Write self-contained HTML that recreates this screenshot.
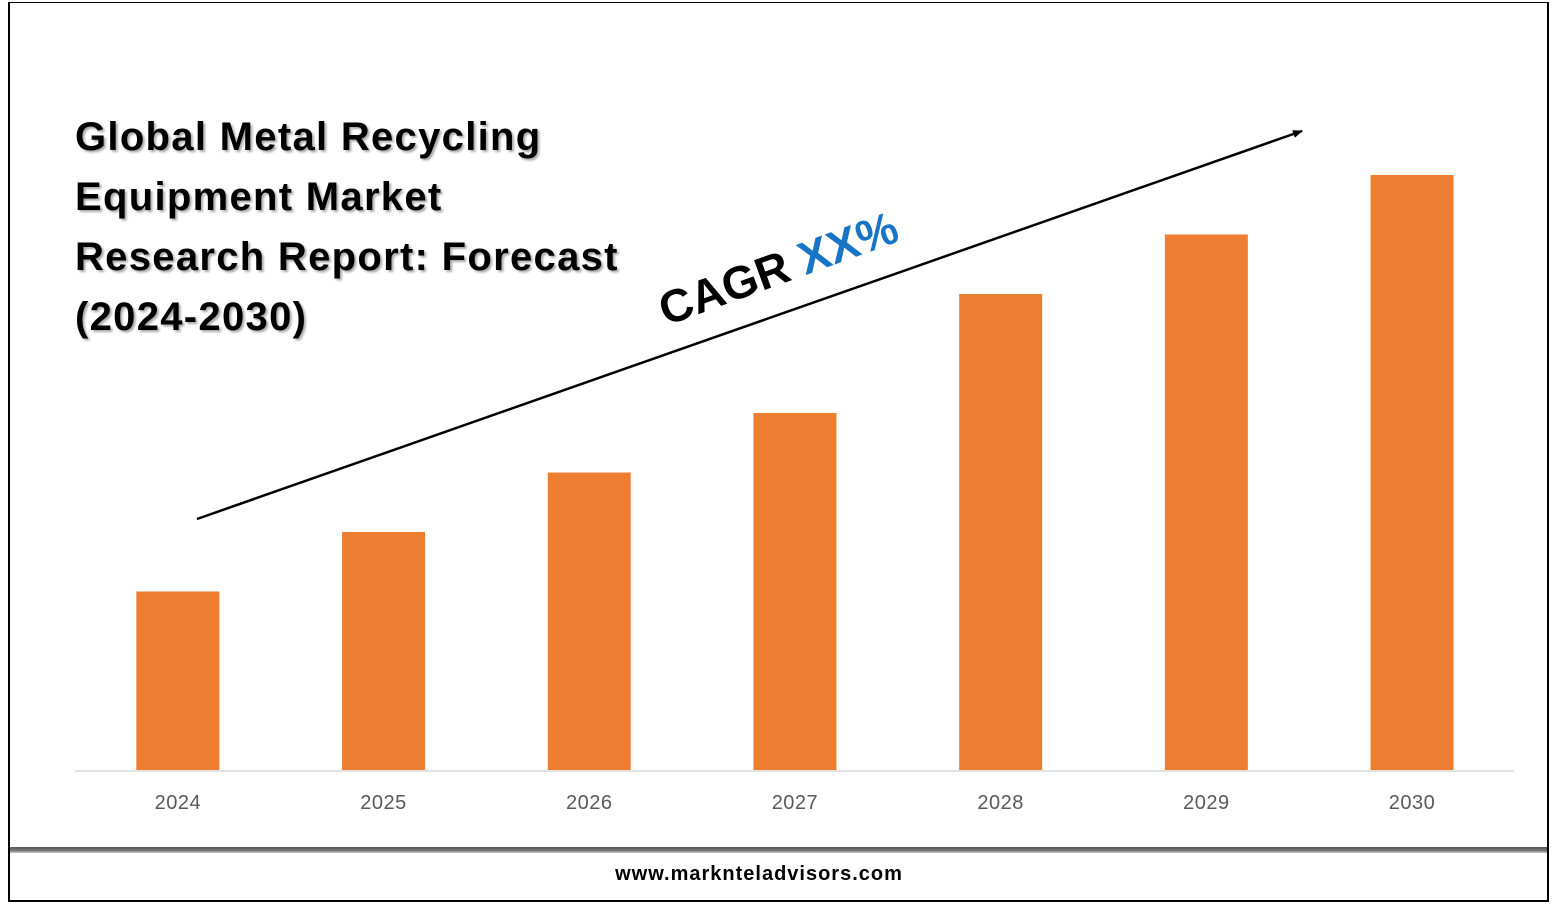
<!DOCTYPE html>
<html><head><meta charset="utf-8"><style>
body{margin:0;background:#fff;width:1557px;height:906px;overflow:hidden;font-family:"Liberation Sans",sans-serif}
#frame{position:absolute;left:8px;top:2px;width:1537px;height:897px;border:2px solid #000;border-top:1px solid #000;box-sizing:content-box}
#band{position:absolute;left:10px;top:847px;width:1537px;height:6px;background:linear-gradient(#555,#777 60%,#ccc)}
#title{position:absolute;left:75px;top:107px;font-weight:bold;font-size:40px;line-height:60px;color:#000;text-shadow:2px 2px 2px #aaa;letter-spacing:1.3px}
#footer{position:absolute;left:613px;width:292px;top:863px;text-align:center;font-weight:bold;font-size:20px;letter-spacing:1px;white-space:nowrap}
</style></head><body>
<div id="frame"></div>
<div id="band"></div>
<div id="title">Global Metal Recycling<br>Equipment Market<br>Research Report: Forecast<br>(2024-2030)</div>
<svg id="chart" width="1557" height="906" style="position:absolute;left:0;top:0">
<defs><marker id="ah" markerWidth="10" markerHeight="8" refX="9" refY="4" orient="auto" markerUnits="userSpaceOnUse"><path d="M0,0 L10,4 L0,8 z" fill="#000"/></marker></defs>
<line x1="75" y1="771" x2="1514" y2="771" stroke="#d9d9d9" stroke-width="1.5"/>
<g id="bars"></g>
<line x1="197" y1="519" x2="1302" y2="131" stroke="#000" stroke-width="2.5" marker-end="url(#ah)"/>
<text transform="translate(666,326) rotate(-20)" font-family="Liberation Sans,sans-serif" font-weight="bold" font-size="46"><tspan fill="#000">CAGR </tspan><tspan fill="#1874c4">XX%</tspan></text>
</svg>
<div id="footer">www.marknteladvisors.com</div>
<script>
const categories=["2024","2025","2026","2027","2028","2029","2030"];
const values=[3,4,5,6,8,9,10];
const x0=75,step=205.7,bw=83,base=770,unit=59.5;
function xPos(i){return x0+step*i+step/2;}
function yPos(v){return base-v*unit;}
const g=document.getElementById('bars'),ns="http://www.w3.org/2000/svg";
categories.forEach((c,i)=>{
 const r=document.createElementNS(ns,'rect');
 r.setAttribute('x',xPos(i)-bw/2);r.setAttribute('y',yPos(values[i]));
 r.setAttribute('width',bw);r.setAttribute('height',base-yPos(values[i]));
 r.setAttribute('fill','#ed7d31');
 
 
 g.appendChild(r);
 const t=document.createElementNS(ns,'text');
 t.setAttribute('x',xPos(i));t.setAttribute('y',809);t.setAttribute('text-anchor','middle');
 t.setAttribute('font-size','20');t.setAttribute('fill','#595959');t.setAttribute('font-family','Liberation Sans,sans-serif');
 t.setAttribute('letter-spacing','0.5');
 t.textContent=c;
 
 
 g.appendChild(t);
});
</script>
</body></html>
